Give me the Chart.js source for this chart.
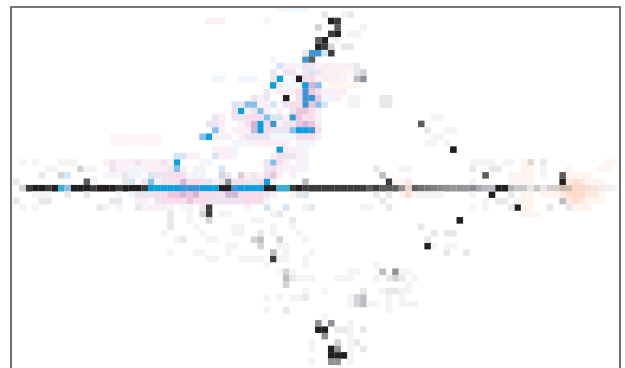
<!DOCTYPE html>
<html>
<head>
<meta charset="utf-8">
<style>
  html, body { margin: 0; background: #fff; overflow: hidden; }
</style>
<script src="https://cdn.jsdelivr.net/npm/chart.js@4"></script>
</head>
<body>
<canvas id="chart" width="625" height="368"></canvas>
<script>
// cell values, as [column, row] with row 0 the long middle band
const blackCells = [[50,26],[51,24],[48,22],[49,23],[45,17],[43,14],[4,0],[5,0],[7,0],[10,0],[11,0],[12,0],[14,0],[15,0],[16,0],[18,0],[19,0],[20,0],[33,0],[34,0],[40,0],[41,0],[45,0],[76,0],[77,0],[69,6],[86,1],[75,-1],[79,-3],[70,-5],[65,-9],[48,-22],[49,-22],[50,-25],[50,-26],[51,-26],[52,-26]];
const darkCells = [[51,26],[50,24],[49,22],[50,21],[3,0],[6,0],[13,0],[17,0],[21,0],[44,0],[46,0],[47,0],[48,0],[49,0],[50,0],[51,0],[52,0],[53,0],[54,0],[55,0],[57,0],[59,1],[31,-3],[31,-4],[41,-11]];
const charcoalCells = [[51,25],[48,23],[47,20],[12,1],[74,2],[86,2],[56,0],[58,0],[59,0],[60,0],[64,10]];
const steelCells = [[55,17],[34,1],[60,-13],[49,-23],[51,-25],[50,-27],[51,-27],[48,-21],[50,-21],[61,0]];
const silverCells = [[54,17],[58,2],[58,-13],[39,-8],[41,-10],[43,-14],[55,-17],[55,-18],[46,1],[86,-2]];
const grayCells = [[50,22],[33,2],[36,2],[2,0],[8,2],[11,3],[38,-8],[39,-9],[54,-17],[54,-18],[43,-13],[43,-15],[60,-14],[51,-24],[55,18],[54,24],[48,25],[42,-8],[30,-4],[31,-5],[41,2],[13,1]];
const lightCells = [[58,14],[59,14],[58,13],[59,13],[49,27],[53,27],[52,22],[53,22],[54,19],[54,18],[57,3],[72,3],[76,3],[83,4],[64,-6],[65,9],[68,-10],[71,-10],[76,-2],[77,-2],[78,-3],[84,-3],[87,-3],[59,-3],[58,-2],[57,-1],[59,-1],[45,-1],[47,-3],[42,-4],[44,-5],[39,-7],[46,-17],[43,-19],[55,-16],[59,-14],[61,-14],[59,-16],[60,-16],[55,-22],[54,-24],[55,-25],[51,-22],[52,-22],[44,-14],[27,-8],[25,-4],[28,-5],[25,-5],[25,-6],[21,-2],[16,3],[16,-2],[17,-2],[18,2],[18,1],[5,2],[1,1],[9,-1],[12,-1],[1,-2],[5,-2],[6,-2],[14,-3],[20,-3],[30,-3],[78,-1],[83,0],[81,0],[75,3],[68,-7],[69,-7],[66,-7],[65,-8]];
const paleCells = [[52,27],[55,25],[54,24],[53,24],[51,23],[53,14],[54,14],[53,13],[54,13],[61,3],[62,3],[2,4],[4,4],[6,3],[7,3],[12,3],[13,3],[29,3],[30,3],[8,4],[9,4],[10,4],[72,4],[73,4],[74,4],[75,4],[77,4],[78,4],[83,3],[83,2],[78,2],[72,1],[4,-1],[5,-1],[6,-1],[72,-1],[64,-1],[65,-1],[66,-1],[67,-1],[74,-2],[79,-2],[2,-3],[4,-3],[72,-3],[74,-3],[17,-3],[25,-3],[28,-3],[46,-3],[55,-3],[56,-3],[41,-4],[28,-4],[33,-4],[34,-4],[28,-5],[38,-5],[39,-5],[29,-6],[35,-6],[36,-6],[41,-6],[44,-6],[24,-7],[30,-7],[35,-7],[36,-7],[41,-7],[45,-7],[26,-8],[31,-8],[32,-8],[46,-8],[34,-9],[35,-9],[42,-9],[43,-9],[25,-10],[29,-10],[30,-10],[34,-10],[43,-10],[47,-10],[36,-11],[37,-11],[38,-11],[39,-11],[42,-11],[43,-11],[46,-11],[31,-11],[32,-11],[40,-12],[46,-12],[57,-12],[42,-13],[44,-13],[53,-13],[54,-13],[61,-13],[62,-13],[45,-14],[46,-14],[47,-14],[51,-14],[52,-14],[53,-14],[57,-14],[63,-14],[62,-15],[46,-16],[49,-16],[58,-16],[61,-16],[62,-16],[40,-17],[42,-17],[44,-17],[45,-17],[53,-17],[59,-17],[61,-17],[53,-18],[56,-18],[57,-18],[59,-18],[61,-18],[62,-18],[63,-18],[40,-19],[59,-19],[49,-20],[53,-21],[53,-22],[53,-23],[47,-24],[53,-24],[47,-25],[53,-25],[53,-26],[47,-27],[53,-27],[66,-9],[68,-9],[69,-9],[66,11],[67,11],[68,9],[69,9],[66,8],[67,8],[65,7],[66,7],[68,7]];
const blueCells = [[42,17],[41,16],[46,16],[36,12],[39,10],[39,9],[45,9],[46,9],[31,8],[26,4],[42,6],[40,1],[23,0],[24,0],[22,0],[25,0],[26,0],[30,0],[31,0],[32,0],[36,0],[37,0],[38,0],[39,0]];
const steelBlueCells = [[47,21],[48,21],[46,20],[46,15],[46,14],[47,14],[46,13],[44,11],[27,0],[28,0],[29,0],[35,0],[47,9],[41,10]];
const tealCells = [[8,0],[42,0],[43,0]];
const skyCells = [[37,13],[38,13],[48,13],[39,12],[40,11],[44,9],[30,8],[26,3],[9,0],[22,1],[32,9],[48,16],[41,4]];
const paleSkyCells = [[49,21],[42,19],[47,18],[26,5],[27,5],[19,1],[22,2],[33,3],[32,5],[41,13],[42,11],[41,11],[35,13],[49,13],[9,2],[43,-3],[40,-3],[46,-1]];
const iceCells = [[42,28],[43,28],[44,28],[45,28],[46,28],[40,26],[41,20],[45,19],[32,17],[33,17],[36,17],[37,17],[38,17],[44,17],[43,16],[44,16],[49,14],[50,14],[35,7],[36,7],[37,7],[45,7],[46,7],[47,7],[35,6],[46,6],[35,5],[46,5],[31,4],[30,4],[46,4],[43,3],[45,3],[46,3],[19,3],[20,3],[15,2],[16,2],[17,2],[19,2],[20,2],[28,2],[29,2],[30,2],[13,1],[17,-1],[19,-1],[21,-3],[27,-3],[28,-3],[15,-3],[40,-2],[33,8],[41,8],[42,8],[43,8],[44,8]];
const mauveCells = [[47,16],[38,10],[38,9],[27,1],[27,-1],[29,-1],[46,10],[35,-1],[34,-1]];
const roseCells = [[47,15],[47,13],[48,14],[45,12],[46,12],[45,11],[45,10],[47,10],[25,-1],[28,-1],[26,-1],[41,2],[28,-2]];
const pinkCells = [[46,17],[47,17],[45,15],[48,15],[44,13],[45,13],[47,12],[37,11],[38,11],[39,11],[46,11],[47,11],[37,10],[40,10],[40,9],[48,9],[45,8],[46,8],[47,8],[42,5],[42,4],[41,3],[40,2],[36,1],[39,1],[26,1],[28,1],[29,1],[23,-1],[24,-1],[30,-1],[31,-1],[32,-1],[36,-1],[37,-1],[38,-1],[39,-1],[25,-2],[26,-2],[27,-2],[29,-2],[30,-2],[24,-2],[25,2],[26,2],[37,-2],[38,-2],[39,-2]];
const lilacCells = [[46,21],[46,18],[47,19],[46,19],[48,18],[43,18],[44,18],[40,15],[41,18],[41,17],[38,14],[40,14],[45,14],[36,13],[43,13],[35,12],[38,12],[44,12],[36,11],[35,11],[32,11],[33,11],[32,10],[31,10],[43,10],[44,10],[42,9],[41,9],[43,9],[37,8],[38,8],[39,8],[40,8],[43,5],[44,5],[40,4],[40,3],[31,1],[33,1],[35,1],[37,1],[38,1],[24,1],[25,1],[30,1],[21,1],[23,2],[24,2],[27,2],[20,4],[24,4],[16,4],[16,3],[25,3],[21,-1],[22,-1],[20,-1],[33,-1],[23,-2],[33,-2],[34,-2],[31,-2],[32,-2],[36,-2],[35,-2],[34,2],[38,2],[40,-1]];
const blushCells = [[31,26],[32,26],[33,26],[48,19],[49,19],[50,19],[51,19],[52,19],[53,19],[43,19],[44,19],[49,18],[50,18],[51,18],[48,17],[49,17],[50,17],[51,17],[52,17],[42,16],[42,15],[43,15],[44,15],[49,15],[50,15],[51,15],[52,15],[39,14],[50,14],[51,14],[39,13],[40,13],[37,12],[40,12],[42,12],[48,12],[43,11],[48,11],[33,11],[36,10],[33,10],[42,10],[48,10],[33,9],[35,9],[36,9],[37,9],[32,8],[34,8],[36,8],[48,8],[38,7],[39,7],[40,7],[41,7],[42,7],[43,7],[32,6],[33,6],[34,6],[43,6],[44,6],[45,6],[33,5],[34,5],[41,5],[45,5],[43,4],[45,4],[42,3],[44,3],[39,2],[37,2],[42,2],[44,2],[32,1],[41,1],[41,-1],[17,3],[18,3],[21,3],[22,3],[23,3],[24,3],[27,3],[15,4],[17,4],[18,4],[19,4],[21,4],[22,4],[23,4],[25,4],[28,5],[29,5],[23,1],[20,-2],[21,-2],[22,-3],[23,-3],[24,-3],[37,-3]];
const faintPinkCells = [[16,8],[17,8],[18,8],[19,8],[20,8],[21,8],[22,8],[23,8],[16,7],[17,7],[18,7],[19,7],[20,7],[21,7],[22,7],[23,7]];
const peachCells = [[88,1],[87,-1],[88,-1],[89,-1],[88,-2],[62,-1]];
const apricotCells = [[87,1],[89,1],[86,-1],[90,-1],[91,-1],[87,-2],[89,-2],[62,1]];
const creamCells = [[81,-2],[81,3],[80,-2],[90,1],[91,1],[92,1],[92,-1],[90,-2],[91,-2],[92,-2],[85,-1],[87,2],[88,2],[89,2],[90,2],[79,2],[80,2],[81,2],[80,3],[87,3],[92,3],[93,3],[80,4],[93,4],[94,4],[80,-3],[81,-3],[88,-3],[89,-3],[90,-3],[80,-4],[81,-4],[82,-4],[78,1],[79,1],[80,1],[81,1],[60,1],[61,1],[80,-1],[81,-1],[83,-1],[84,-1],[61,-1],[63,-1],[50,16],[51,16],[52,16],[53,16],[54,16],[52,18],[53,18],[44,-1]];
const roseGrayCells = [[81,4],[62,0]];
// the long band fades out to the right: column and tint per cell
const fadeColumns = [63,64,65,66,67,68,69,70,71,72,73,74,75,78,79,80,81,82,83,84,85,86,87,88,89,90,91,92,93,94];
const fadeTints = ['#606060','#707070','#787878','#808080','#888888','#909090','#989898','#929292','#989898','#888890','#a8a8a8','#b8b8c0','#bababf','#b0b0b8','#c8c8c8','#c8c8d0','#e0e0e0','#c8c8c8','#e8e8e8','#d8d0d0','#d8d0c8','#c8b8b0','#d0c0b0','#ffd8c8','#f8d8c8','#f8e0d8','#f4e4e0','#f4ece8','#f4f0f0','#f4f4f4'];

const series = (cells, color) => ({
  data: cells.map(([x, y]) => ({ x, y })),
  backgroundColor: color,
  pointRadius: 4.65,
  pointStyle: 'rect',
  pointBorderWidth: 0,
  showLine: false,
});

// draws the thin box round the plot, it runs off the bottom of the page
const framePlugin = {
  id: 'frame',
  afterDatasetsDraw(chart) {
    const { ctx, chartArea: a } = chart;
    ctx.save();
    ctx.strokeStyle = '#4d4d4d';
    ctx.lineWidth = 1.6;
    ctx.beginPath();
    ctx.moveTo(a.left, a.bottom + 2);
    ctx.lineTo(a.left, a.top);
    ctx.lineTo(a.right, a.top);
    ctx.lineTo(a.right, a.bottom + 2);
    ctx.stroke();
    ctx.restore();
  },
};

new Chart(document.getElementById('chart'), {
  type: 'scatter',
  data: {
    datasets: [
      series(paleCells, '#f4f4f4'),
      series(creamCells, '#fef5f0'),
      series(faintPinkCells, '#fef6f9'),
      series(iceCells, '#f0f6fb'),
      series(blushCells, '#fbeef5'),
      series(lilacCells, '#ece4ef'),
      series(pinkCells, '#f8dcec'),
      series(lightCells, '#e8e8ea'),
      series(apricotCells, '#fce8de'),
      series(peachCells, '#ffdccc'),
      series(roseGrayCells, '#e8d4d0'),
      series(paleSkyCells, '#d4e6f6'),
      series(roseCells, '#ecc4de'),
      series(mauveCells, '#d2b6d8'),
      series(grayCells, '#d4d4d6'),
      series(silverCells, '#bcbcc2'),
      series(skyCells, '#86bfec'),
      series(fadeColumns.map((c) => [c, 0]), fadeTints),
      series(steelCells, '#909098'),
      series(charcoalCells, '#5c5c5e'),
      series(tealCells, '#38aed0'),
      series(steelBlueCells, '#3a96d6'),
      series(blueCells, '#08a0e0'),
      series(darkCells, '#3c3c3e'),
      series(blackCells, '#231f20'),
    ],
  },
  options: {
    responsive: false,
    animation: false,
    layout: { autoPadding: false, padding: { left: 11, top: 7, right: 5, bottom: 0 } },
    plugins: { legend: { display: false }, tooltip: { enabled: false } },
    scales: {
      x: { type: 'linear', min: 0.2, max: 94.91, display: false },
      y: { type: 'linear', min: -27.96, max: 28.18, display: false },
    },
  },
  plugins: [framePlugin],
});
</script>
</body>
</html>
